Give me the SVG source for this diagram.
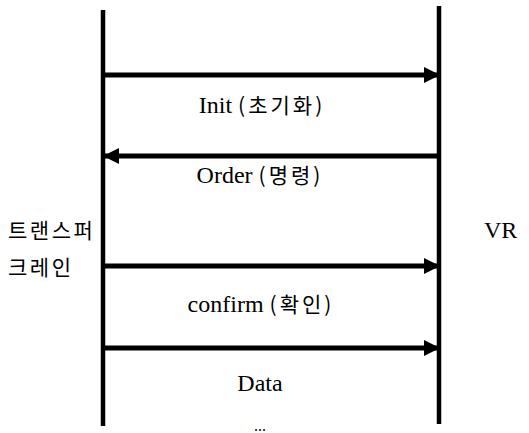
<svg xmlns="http://www.w3.org/2000/svg" width="529" height="433" viewBox="0 0 529 433">
<style>
.t{font-family:'Liberation Serif',serif;font-size:24px;fill:#000}
.k{font-family:'Noto Sans CJK KR',sans-serif;font-size:21px;letter-spacing:3px}
.ks{font-size:21px;letter-spacing:2.5px}
.m{text-anchor:middle}
.life{stroke:#000;stroke-width:4.5;fill:none}
.msg{stroke:#000;stroke-width:5;fill:none}
</style>
<defs>
<marker id="ah" viewBox="0 0 16 16" refX="16" refY="8" markerWidth="16" markerHeight="16" markerUnits="userSpaceOnUse" orient="auto">
<path d="M0,0 L16,8 L0,16 Z" fill="#000"/>
</marker>
</defs>
<g id="crane">
<line class="life" x1="103" y1="10" x2="103" y2="426"/>
<text class="t k ks" x="8" y="238">트랜스퍼</text>
<text class="t k ks" x="8" y="275">크레인</text>
</g>
<g id="vr">
<line class="life" x1="439" y1="6" x2="439" y2="424"/>
<text class="t" x="484" y="238">VR</text>
</g>
<g id="connectors">
<line class="msg" x1="103" y1="75" x2="440" y2="75" marker-end="url(#ah)"/>
<line class="msg" x1="439" y1="156" x2="103" y2="156" marker-end="url(#ah)"/>
<line class="msg" x1="103" y1="266" x2="440" y2="266" marker-end="url(#ah)"/>
<line class="msg" x1="103" y1="348" x2="440" y2="348" marker-end="url(#ah)"/>
</g>
<g id="labels">
<text class="t m" x="262" y="113">Init <tspan class="k">(초기화)</tspan></text>
<text class="t m" x="260" y="183">Order <tspan class="k">(명령)</tspan></text>
<text class="t m" x="261" y="312">confirm <tspan class="k">(확인)</tspan></text>
<text class="t m" x="260" y="391">Data</text>
<text class="t m" x="260" y="431" style="font-size:16px">...</text>
</g>
</svg>
